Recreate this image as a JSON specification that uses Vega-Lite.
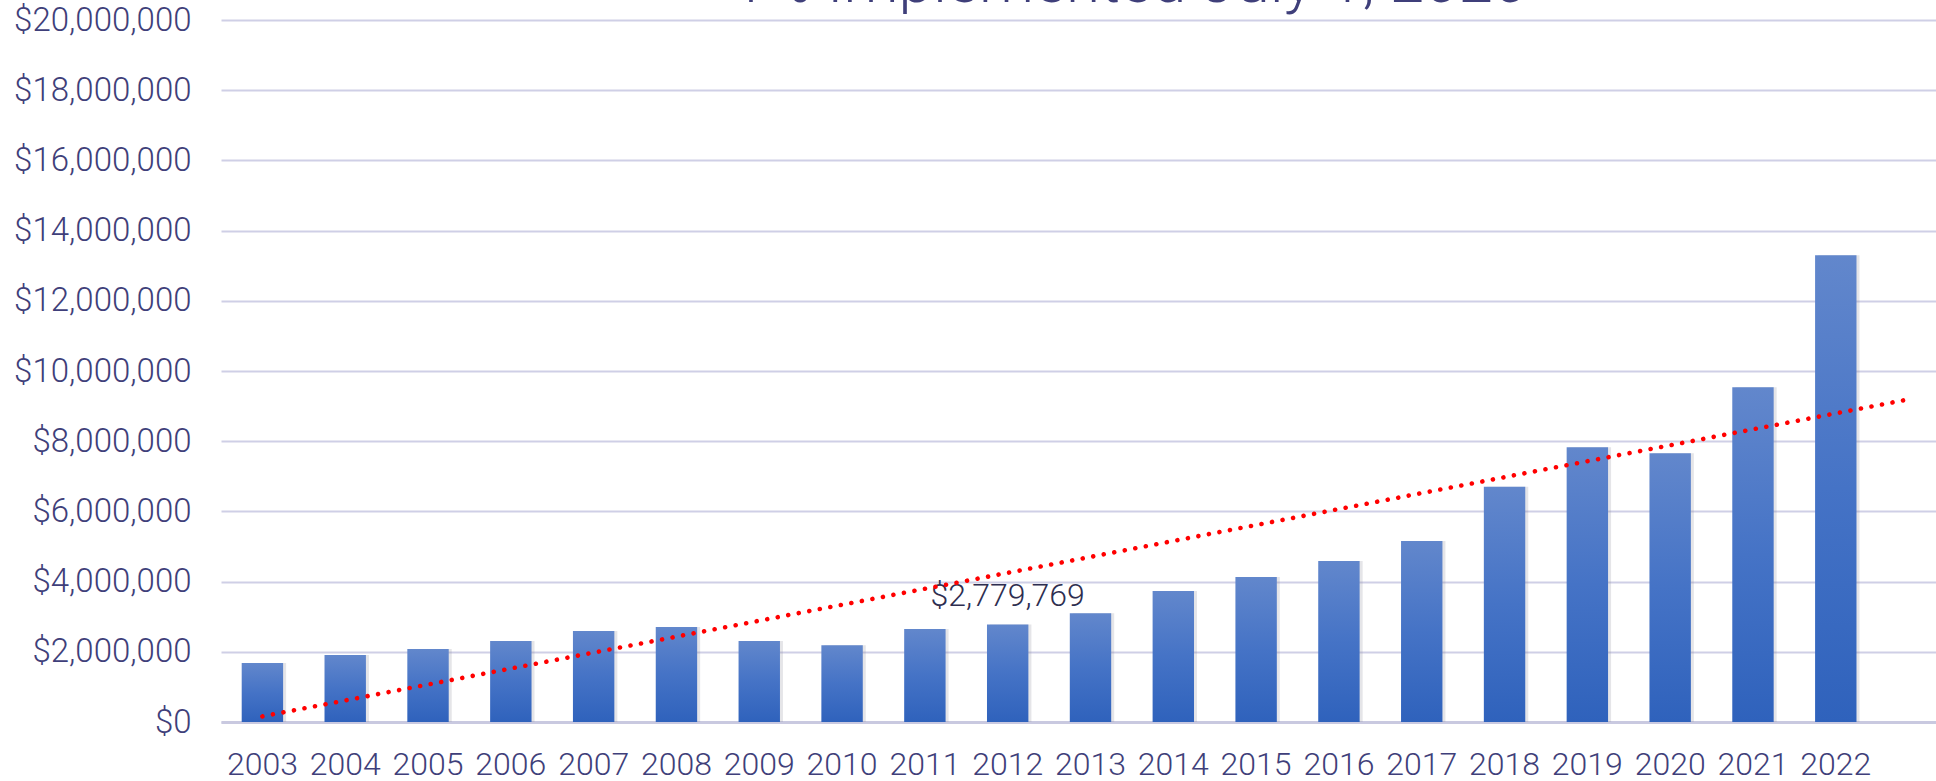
{
  "$schema": "https://vega.github.io/schema/vega-lite/v6.json",
  "width": 1715,
  "height": 702,
  "autosize": {"type": "none"},
  "padding": {"left": 221, "top": 20, "right": 0, "bottom": 59},
  "background": "white",
  "config": {
    "view": {"stroke": null},
    "font": "Roboto"
  },
  "title": {
    "text": "1% Implemented July 1, 2020",
    "font": "Roboto",
    "fontSize": 62,
    "fontWeight": 300,
    "color": "#3f3f7a",
    "anchor": "middle",
    "frame": "group",
    "baseline": "alphabetic",
    "offset": -60,
    "dx": 51
  },
  "datasets": {
    "bars": [
      {"year": "2003", "amount": 1680000},
      {"year": "2004", "amount": 1910000},
      {"year": "2005", "amount": 2080000},
      {"year": "2006", "amount": 2310000},
      {"year": "2007", "amount": 2590000},
      {"year": "2008", "amount": 2710000},
      {"year": "2009", "amount": 2310000},
      {"year": "2010", "amount": 2190000},
      {"year": "2011", "amount": 2650000},
      {"year": "2012", "amount": 2779769, "label": "$2,779,769"},
      {"year": "2013", "amount": 3100000},
      {"year": "2014", "amount": 3730000},
      {"year": "2015", "amount": 4130000},
      {"year": "2016", "amount": 4590000},
      {"year": "2017", "amount": 5160000},
      {"year": "2018", "amount": 6700000},
      {"year": "2019", "amount": 7830000},
      {"year": "2020", "amount": 7660000},
      {"year": "2021", "amount": 9540000},
      {"year": "2022", "amount": 13300000}
    ],
    "trend": [
      {"pos": 0, "value": 160000},
      {"pos": 19.83, "value": 9170000}
    ]
  },
  "layer": [
    {
      "data": {"name": "bars"},
      "encoding": {
        "x": {
          "field": "year", "type": "ordinal",
          "scale": {
            "domain": ["2003", "2004", "2005", "2006", "2007", "2008", "2009", "2010", "2011", "2012", "2013", "2014", "2015", "2016", "2017", "2018", "2019", "2020", "2021", "2022", "2023"],
            "range": [0, 1739], "paddingInner": 0.5, "paddingOuter": 0.25
          },
          "axis": {
            "title": null,
            "values": ["2003", "2004", "2005", "2006", "2007", "2008", "2009", "2010", "2011", "2012", "2013", "2014", "2015", "2016", "2017", "2018", "2019", "2020", "2021", "2022"],
            "labelFont": "Roboto",
            "labelFontWeight": 300,
            "labelFontSize": 32,
            "labelColor": "#3f3f7a",
            "labelAngle": 0,
            "labelPadding": 27,
            "ticks": false,
            "domainColor": "#c9c9e0",
            "domainWidth": 3,
            "grid": false
          }
        },
        "y": {
          "field": "amount", "type": "quantitative",
          "scale": {"domain": [0, 20000000], "nice": false},
          "axis": {
            "title": null,
            "values": [0, 2000000, 4000000, 6000000, 8000000, 10000000, 12000000, 14000000, 16000000, 18000000, 20000000],
            "format": "$,.0f",
            "labelFont": "Roboto",
            "labelFontWeight": 300,
            "labelFontSize": 33,
            "labelColor": "#3f3f7a",
            "labelPadding": 30,
            "ticks": false,
            "domain": false,
            "grid": true,
            "gridColor": "#cfcfe6",
            "gridWidth": 2
          }
        }
      },
      "layer": [
        {
          "mark": {"type": "bar", "color": "#8a8a96", "opacity": 0.22, "xOffset": 3}
        },
        {
          "mark": {
            "type": "bar",
            "color": {
              "gradient": "linear",
              "x1": 0, "y1": 0, "x2": 0, "y2": 1,
              "stops": [
                {"offset": 0, "color": "#6287cc"},
                {"offset": 0.5, "color": "#4573c6"},
                {"offset": 1, "color": "#2f62bc"}
              ]
            }
          }
        },
        {
          "transform": [{"filter": "datum.label != null"}],
          "mark": {
            "type": "text",
            "font": "Roboto",
            "fontWeight": 300,
            "fontSize": 32,
            "color": "#2e2e50",
            "baseline": "alphabetic",
            "align": "center",
            "dy": -18
          },
          "encoding": {
            "text": {"field": "label"}
          }
        }
      ]
    },
    {
      "data": {"name": "trend"},
      "mark": {
        "type": "line",
        "color": "#ff0000",
        "strokeWidth": 4.6,
        "strokeCap": "round",
        "strokeDash": [0.01, 10.7]
      },
      "encoding": {
        "x": {
          "field": "pos", "type": "quantitative",
          "scale": {"domain": [-0.5, 20.5], "range": [0, 1739], "nice": false, "zero": false},
          "axis": null
        },
        "y": {"field": "value", "type": "quantitative"}
      }
    }
  ],
  "resolve": {"scale": {"x": "independent"}}
}
